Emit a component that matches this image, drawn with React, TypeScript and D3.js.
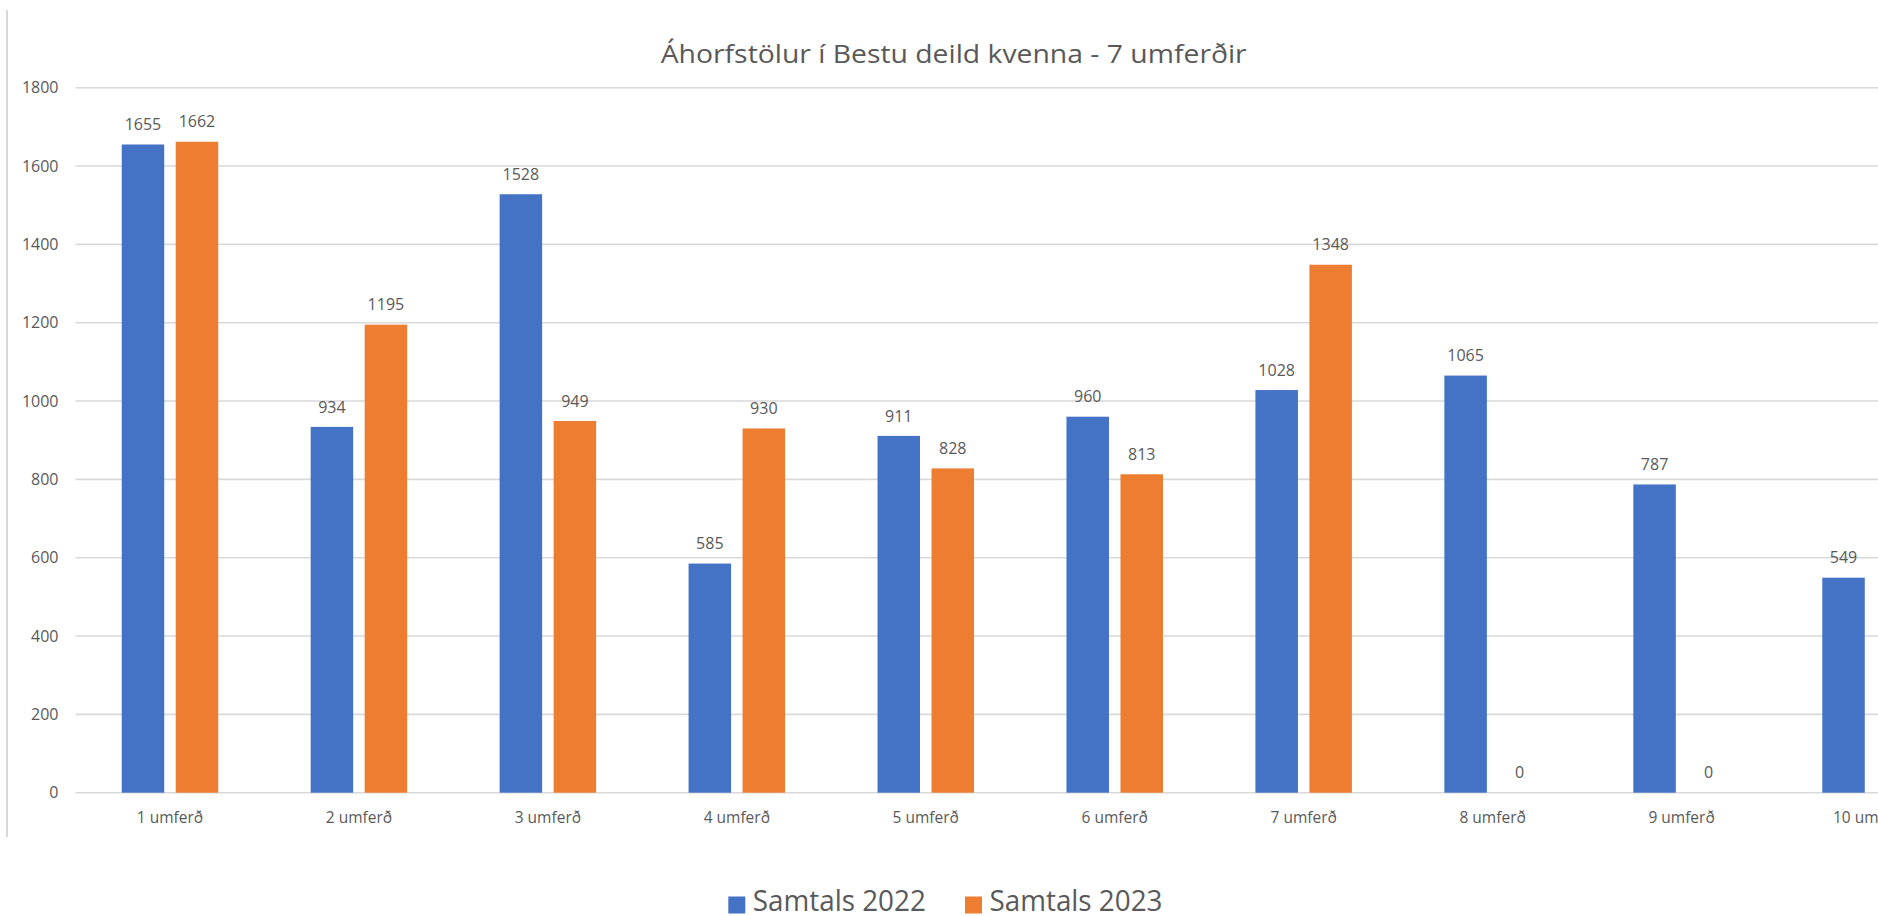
import React from "react";
import * as d3 from "d3";

const categories = [
  "1 umferð", "2 umferð", "3 umferð", "4 umferð", "5 umferð",
  "6 umferð", "7 umferð", "8 umferð", "9 umferð", "10 umferð",
];
const seriesNames = ["Samtals 2022", "Samtals 2023"];
const values2022 = [1655, 934, 1528, 585, 911, 960, 1028, 1065, 787, 549];
// 10th round value for 2023 lies outside the visible picture
const values2023 = [1662, 1195, 949, 930, 828, 813, 1348, 0, 0];
const yTicks = [0, 200, 400, 600, 800, 1000, 1200, 1400, 1600, 1800];
const titleText = "Áhorfstölur í Bestu deild kvenna - 7 umferðir";
const colors = ["#4472C4", "#ED7D31"];

const W = 1878;
const H = 916;
const FONT = "'Open Sans', 'Noto Sans', sans-serif";
const TEXT = "#595959";

export default function App() {
  const series = [values2022, values2023];
  const x0 = d3.scaleBand<string>().domain(categories).range([75.5, 75.5 + 188.95 * categories.length]).padding(0);
  const x1 = d3
    .scaleBand<string>()
    .domain(seriesNames)
    .range([0, x0.bandwidth()])
    .paddingInner(0.213)
    .paddingOuter(0.856);
  const y = d3.scaleLinear().domain([0, 1800]).range([792.7, 87.7]);

  return (
    <svg
      width={W}
      height={H}
      style={{ position: "absolute", left: 0, top: 0, background: "#fff" }}
    >
      <rect x={0} y={0} width={W} height={H} fill="#fff" />
      {/* left frame line */}
      <line x1={7} x2={7} y1={10} y2={837} stroke="#d9d9d9" strokeWidth={2} />
      {/* title */}
      <text
        x={660.7}
        y={63}
        fontFamily={FONT}
        fontSize={25}
        fill={TEXT}
        textLength={586}
        lengthAdjust="spacingAndGlyphs"
      >
        {titleText}
      </text>
      {/* gridlines and y ticks */}
      {yTicks.map((t) => (
        <g key={t}>
          <line x1={75.5} x2={W} y1={y(t)} y2={y(t)} stroke="#d9d9d9" strokeWidth={1.6} />
          <text
            x={58.5}
            y={y(t)}
            dy="0.36em"
            textAnchor="end"
            fontFamily={FONT}
            fontSize={16}
            fill={TEXT}
          >
            {t}
          </text>
        </g>
      ))}
      {/* bars */}
      {categories.map((c, i) => (
        <g key={c} transform={`translate(${x0(c)},0)`}>
          {seriesNames.map((s, k) => {
            const v = series[k][i];
            if (v === undefined) return null;
            const bx = x1(s) as number;
            return (
              <g key={s}>
                <rect
                  x={bx}
                  y={y(v)}
                  width={x1.bandwidth()}
                  height={y(0) - y(v)}
                  fill={colors[k]}
                />
                <text
                  x={bx + x1.bandwidth() / 2}
                  y={y(v) - 14.3}
                  textAnchor="middle"
                  fontFamily={FONT}
                  fontSize={16}
                  fill={TEXT}
                >
                  {v}
                </text>
              </g>
            );
          })}
          <text
            x={x0.bandwidth() / 2}
            y={823.3}
            textAnchor="middle"
            fontFamily={FONT}
            fontSize={15.5}
            fill={TEXT}
          >
            {c}
          </text>
        </g>
      ))}
      {/* legend */}
      {seriesNames.map((s, k) => {
        const lx = k === 0 ? 728.3 : 965;
        return (
          <g key={s}>
            <rect x={lx} y={896.5} width={17} height={17} fill={colors[k]} />
            <text
              x={lx + 24.5}
              y={911}
              fontFamily={FONT}
              fontSize={30}
              fill={TEXT}
              textLength={173}
              lengthAdjust="spacingAndGlyphs"
            >
              {s}
            </text>
          </g>
        );
      })}
    </svg>
  );
}
